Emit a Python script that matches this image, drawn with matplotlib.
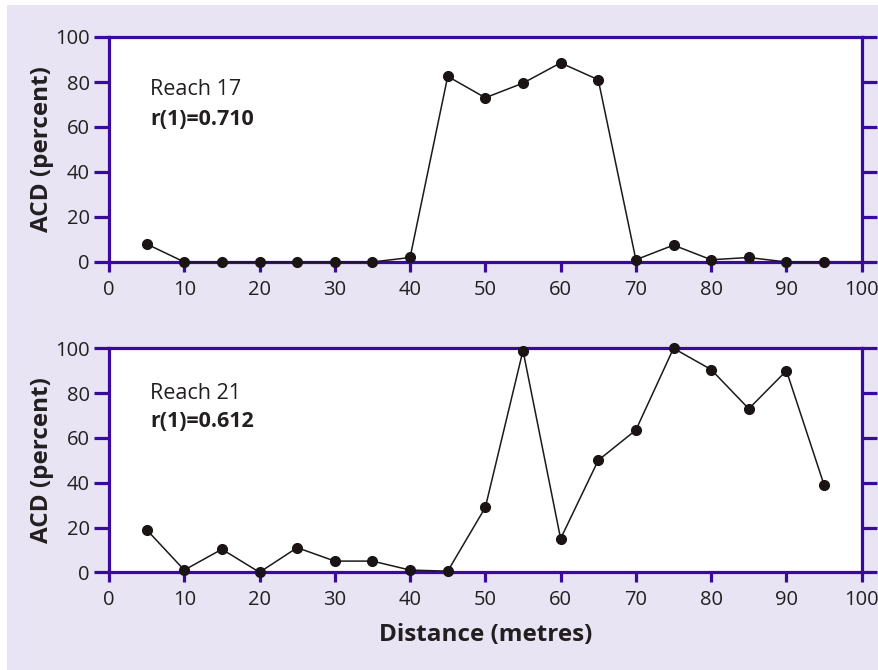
import matplotlib.pyplot as plt
from matplotlib.patches import Rectangle

distance = [5, 10, 15, 20, 25, 30, 35, 40, 45, 50, 55, 60, 65, 70, 75, 80, 85, 90, 95]
reach17 = [8, 0, 0, 0, 0, 0, 0, 2, 82.5, 73, 79.5, 88.5, 81, 1, 7.5, 1, 2, 0, 0]
reach21 = [19, 1, 10.3, 0, 11, 5, 5, 1, 0.5, 29, 99, 15, 50, 63.5, 100, 90.5, 73, 90, 39]
panel_titles = ["Reach 17", "Reach 21"]
panel_stats = ["r(1)=0.710", "r(1)=0.612"]
xticks = [0, 10, 20, 30, 40, 50, 60, 70, 80, 90, 100]
yticks = [0, 20, 40, 60, 80, 100]

purple = '#3A0A9E'
lavender = '#E8E4F4'
textc = '#231f20'
plt.rcParams['font.family'] = ['Open Sans', 'DejaVu Sans']

fig = plt.figure(figsize=(8.79, 6.70), dpi=100)
fig.patch.set_facecolor('white')
fig.add_artist(Rectangle((7 / 879, 0), 1 - 7 / 879, 1 - 5 / 670, transform=fig.transFigure,
                         facecolor=lavender, edgecolor='none', zorder=-10))

left = 109 / 879
width = (861.7 - 109) / 879
positions = [
    [left, 1 - 262 / 670, width, 225 / 670],
    [left, 1 - 572.3 / 670, width, 224 / 670],
]
label_y = [(76.5, 63.5), (80, 67.5)]
series = [reach17, reach21]

for i in range(2):
    ax = fig.add_axes(positions[i])
    ax.set_facecolor('white')
    ax.plot(distance, series[i], color='#1a1a1a', lw=1.1, marker='o', ms=7,
            markerfacecolor='#1a1414', markeredgecolor='#1a1414', clip_on=False, zorder=5)
    ax.set_xlim(0, 100)
    ax.set_ylim(0, 100)
    ax.set_xticks(xticks)
    ax.set_yticks(yticks)
    for s in ax.spines.values():
        s.set_color(purple)
        s.set_linewidth(2.3)
    ax.tick_params(axis='y', which='both', direction='out', length=11, width=2.3, color=purple,
                   right=True, labelright=False, labelsize=14.5, labelcolor=textc, pad=3)
    ax.tick_params(axis='x', direction='out', length=7, width=2.3, color=purple,
                   labelsize=14.5, labelcolor=textc, pad=6)
    ax.set_ylabel('ACD (percent)', fontsize=17.5, fontweight='bold', color=textc, labelpad=1)
    ax.text(5.5, label_y[i][0], panel_titles[i], fontsize=15.5, color=textc, va='center', ha='left')
    ax.text(5.5, label_y[i][1], panel_stats[i], fontsize=15.5, fontweight='bold', color=textc,
            va='center', ha='left')
    if i == 1:
        ax.set_xlabel('Distance (metres)', fontsize=17.5, fontweight='bold', color=textc, labelpad=9)

fig.savefig('out.png', dpi=100, facecolor=fig.get_facecolor())
